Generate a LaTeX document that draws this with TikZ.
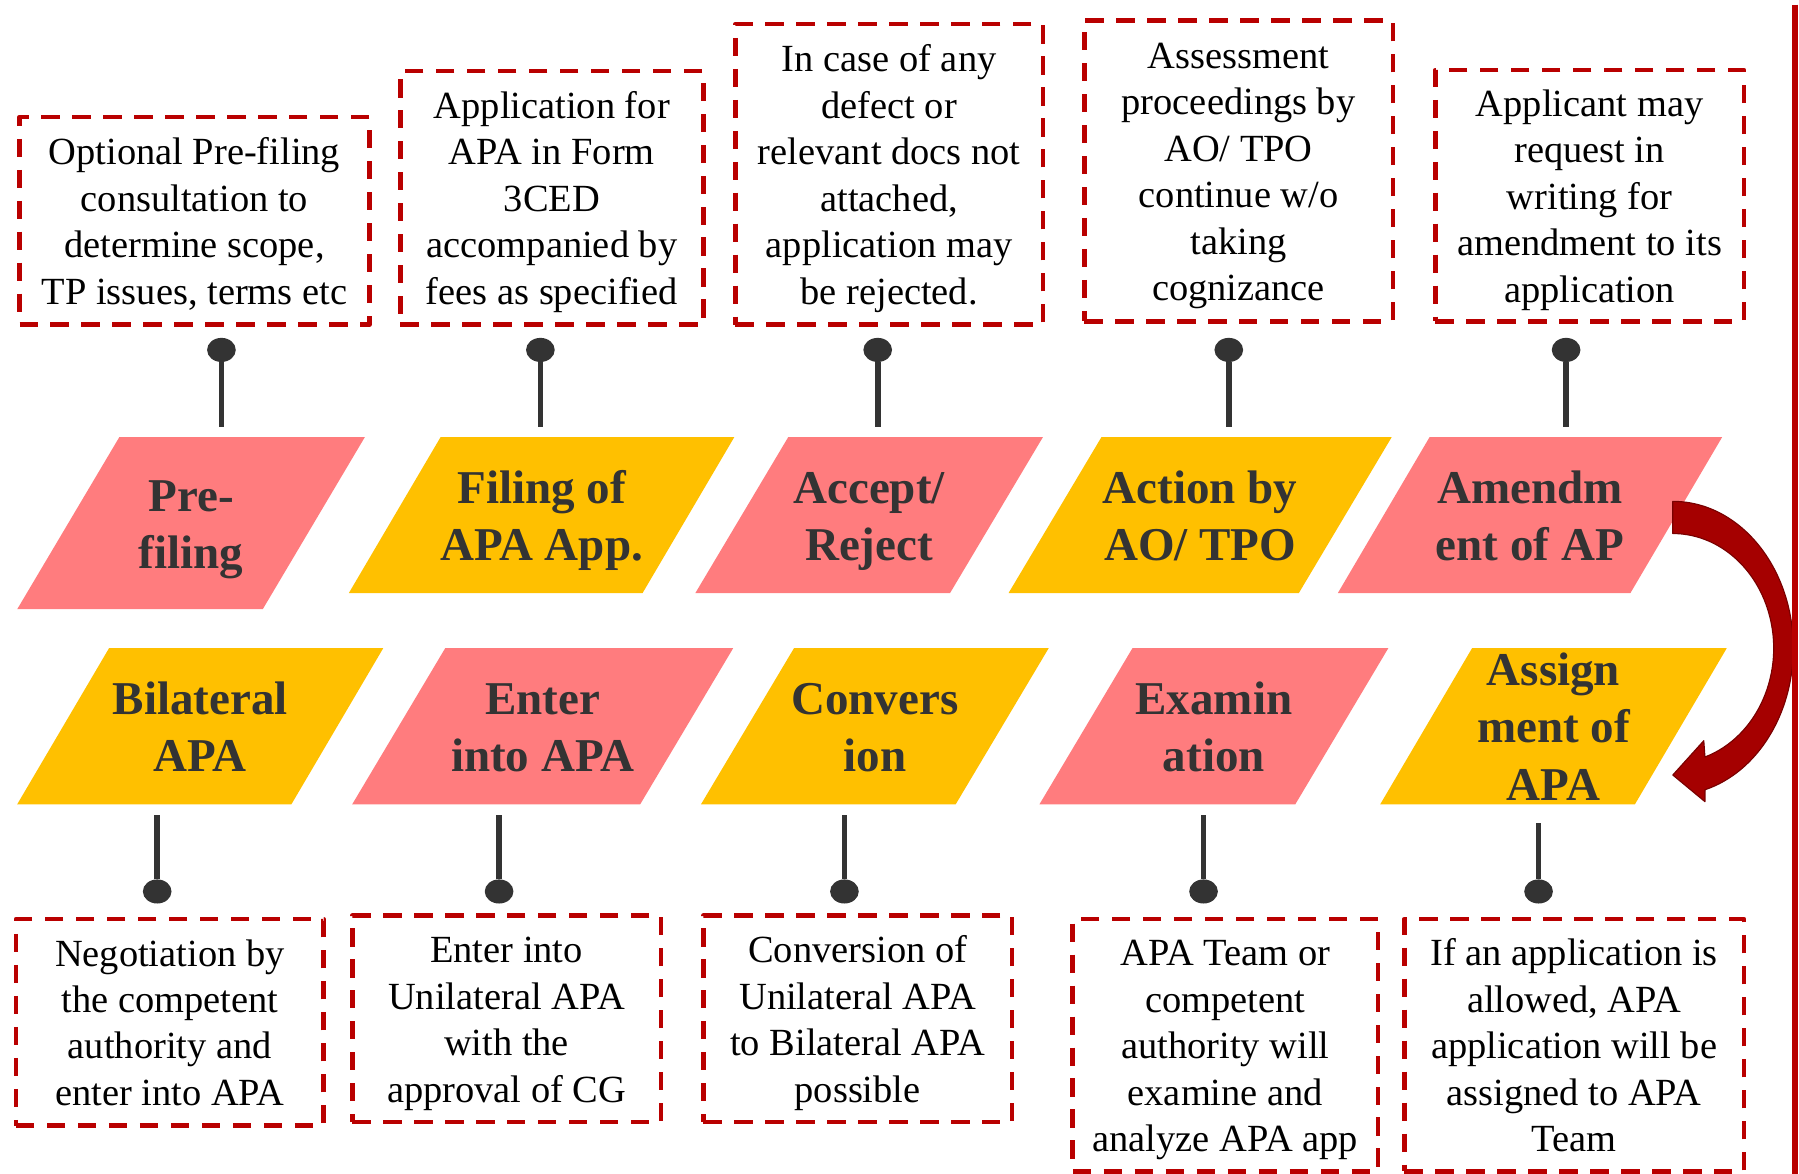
\documentclass[tikz,border=0pt]{standalone}
\usepackage{fontspec}
\setmainfont{Liberation Serif}
\usetikzlibrary{calc,shapes.geometric}
\definecolor{notered}{RGB}{185,0,0}
\definecolor{tilepink}{RGB}{255,124,126}
\definecolor{tilegold}{RGB}{255,192,0}
\definecolor{ink}{RGB}{51,51,51}
\definecolor{bendred}{RGB}{165,0,0}
\definecolor{bendedge}{RGB}{120,0,0}
% fixed first-line height and last-line depth, so every box centres alike
\newcommand{\notelines}[1]{\rule{0pt}{32pt}#1\rule[-8.5pt]{0pt}{8.5pt}}
\newcommand{\tilelines}[1]{\rule{0pt}{39.5pt}#1\rule[-10.5pt]{0pt}{10.5pt}}

\begin{document}
\begin{tikzpicture}[x=1pt,y=1pt,line join=round,
    note/.style={draw=notered,line width=4pt,dash pattern=on 16pt off 11pt,
        inner sep=0pt,align=center,font=\fontsize{33.5}{40.5}\selectfont},
    tiletext/.style={inner sep=0pt,align=center,text=ink,
        font=\fontsize{41}{50}\selectfont\bfseries},
    pin/.style={ellipse,fill=ink,inner sep=0pt,minimum width=25pt,minimum height=21pt},
    stick/.style={draw=ink,line width=5pt}]
  \useasboundingbox (0,0) rectangle (1568,1023);
  % tiles: name/colour/left x/bottom y/width/slant/height/text
  \foreach \nm/\col/\bx/\by/\w/\s/\h/\txt in {
      pre/tilepink/15/492/214/89/150/{Pre-\\filing},
      fil/tilegold/304/506/256/80/136/{Filing of\\APA App.},
      acc/tilepink/606/506/222/81/136/{Accept/\\Reject},
      act/tilegold/879/506/253/81/136/{Action by\\AO/ TPO},
      amd/tilepink/1166/506/255/80/136/{Amendm\\ent of AP},
      bil/tilegold/15/322/239/80/136/{Bilateral\\APA},
      ent/tilepink/307/322/251/81/136/{Enter\\into APA},
      con/tilegold/611/322/222/81/136/{Convers\\ion},
      exa/tilepink/906/322/223/81/136/{Examin\\ation},
      asg/tilegold/1203/322/222/80/136/{Assign\\ment of\\APA}}
  {
    \fill[\col] (\bx,\by) -- ++(\w,0) -- ++(\s,\h) -- ++(-\w,0) -- cycle;
    \node[tiletext,minimum height=\h pt] (\nm) at ({\bx+(\w+\s)/2},{\by+\h/2}) {\tilelines{\txt}};
  }
  % upper notes
  \node[note,minimum width=305pt,minimum height=181pt] (n1) at (169.5,830.5)
      {\notelines{Optional Pre-filing\\consultation to\\determine scope,\\TP issues, terms etc}};
  \node[note,minimum width=264pt,minimum height=221pt] (n2) at (481,850.5)
      {\notelines{Application for\\APA in Form\\3CED\\accompanied by\\fees as specified}};
  \node[note,minimum width=268pt,minimum height=262pt] (n3) at (775,871)
      {\notelines{In case of any\\defect or\\relevant docs not\\attached,\\application may\\be rejected.}};
  \node[note,minimum width=269pt,minimum height=262pt] (n4) at (1079.5,874)
      {\notelines{Assessment\\proceedings by\\AO/ TPO\\continue w/o\\taking\\cognizance}};
  \node[note,minimum width=269pt,minimum height=219pt] (n5) at (1385.5,852.5)
      {\notelines{Applicant may\\request in\\writing for\\amendment to its\\application}};
  % lower notes
  \node[note,minimum width=268pt,minimum height=180pt] (m1) at (148,132)
      {\notelines{Negotiation by\\the competent\\authority and\\enter into APA}};
  \node[note,minimum width=269pt,minimum height=180pt] (m2) at (441.5,135)
      {\notelines{Enter into\\Unilateral APA\\with the\\approval of CG}};
  \node[note,minimum width=269pt,minimum height=180pt] (m3) at (747.5,135)
      {\notelines{Conversion of\\Unilateral APA\\to Bilateral APA\\possible}};
  \node[note,minimum width=266pt,minimum height=220pt] (m4) at (1068,112)
      {\notelines{APA Team or\\competent\\authority will\\examine and\\analyze APA app}};
  \node[note,minimum width=296pt,minimum height=220pt] (m5) at (1372,112)
      {\notelines{If an application is\\allowed, APA\\application will be\\assigned to APA\\Team}};
  % pins
  \foreach \nm/\x/\t in {p1/193/pre,p2/471/fil,p3/765/acc,p4/1071/act,p5/1365/amd}{
    \node[pin] (\nm) at (\x,718) {};
    \draw[stick] (\nm) -- ($(\nm |- \t.north)+(0,9)$);
  }
  \foreach \nm/\x/\t in {q1/137/bil,q2/435/ent,q3/736/con,q4/1049/exa,q5/1341/asg}{
    \node[pin] (\nm) at (\x,246) {};
    \draw[stick] (\nm) -- ($(\nm |- \t.south)-(0,9)$);
  }
  % bent arrow amd -> asg
  \filldraw[fill=bendred,draw=bendedge,line width=1pt] (1458,586)
      arc[start angle=90,end angle=-74.5,x radius=105,y radius=128]
      -- (1486,324.3) -- (1458,347.5) -- (1485,377.4) -- (1486,363.2)
      arc[start angle=-71.4,end angle=90,x radius=88,y radius=100] -- cycle;
  \draw[notered,line width=5pt] (1564.5,1019) -- (1564.5,0);
\end{tikzpicture}
\end{document}
